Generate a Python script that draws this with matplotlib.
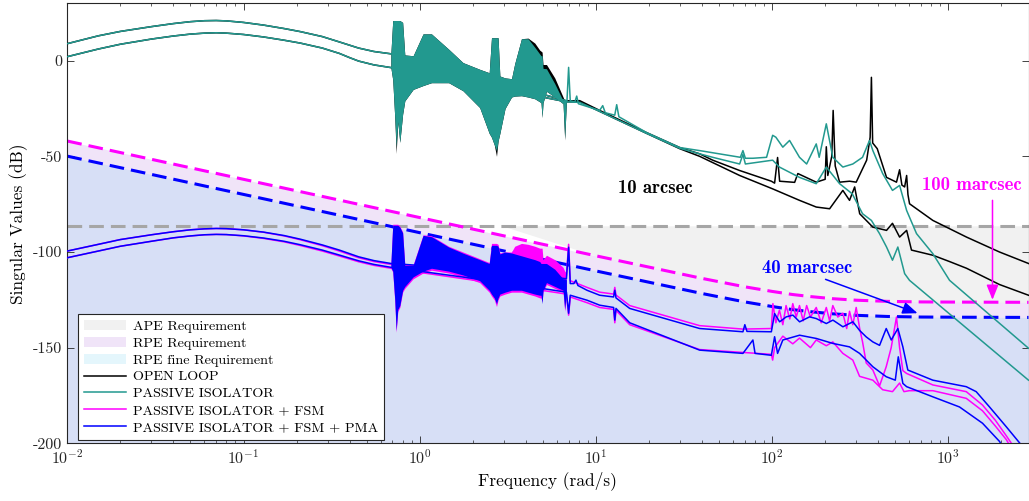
import matplotlib
matplotlib.use("Agg")
import matplotlib.pyplot as plt

plt.rcParams["font.family"] = "cmr10"
plt.rcParams["mathtext.fontset"] = "cm"
plt.rcParams["axes.unicode_minus"] = False
plt.rcParams["axes.formatter.use_mathtext"] = True

# requirement envelopes (dB)
req_freq = [0.01, 1, 10, 40, 70, 100, 130, 165, 220, 300, 450, 700, 1200, 2851]
rpe_db = [-42.0, -82.0, -102.0, -113.8, -118.2, -120.6, -122.2, -123.3, -124.4, -125.2, -125.8, -126.1, -126.2, -126.3]
rpe_fine_db = [-49.9, -89.9, -109.9, -121.7, -126.1, -128.5, -130.1, -131.2, -132.3, -133.1, -133.7, -134.0, -134.1, -134.2]
ape_db = -86.3

# singular values, (rad/s, dB)
ol_sv1 = [(0.01, 8.9), (0.015, 13), (0.02, 15.3), (0.03, 17.8), (0.04, 19.4), (0.05, 20.4), (0.06, 20.9),
          (0.07, 21), (0.08, 20.8), (0.1, 20), (0.13, 18.6), (0.17, 16.8), (0.21, 15.2), (0.28, 12.6),
          (0.35, 9.8), (0.45, 6.6), (0.55, 4.8), (0.686, 3.6), (3.0, -12), (6.8, -21), (8.09, -20.9),
          (10.5, -26), (19.4, -37.6), (29.9, -45.4), (38.8, -48.7), (46.0, -52), (65.4, -57.4), (99.0, -63),
          (103.3, -64), (107.4, -50.6), (110.3, -63), (134.2, -63.6), (140, -59), (178, -63.5), (200, -62),
          (203, -45), (207, -60), (218, -50), (222, -26), (228, -55), (241.5, -63.5), (275, -63), (300, -63.5),
          (344, -52), (360, -40), (366, -8.7), (372, -43), (395, -46), (446, -61), (508, -63.5), (529, -57),
          (545, -65), (565, -66), (580, -60), (590, -70), (602.5, -74.8), (817, -83.5), (1268, -92.2),
          (1951, -100), (2851, -106)]
ol_sv2 = [(0.01, 2.1), (0.015, 6.1), (0.02, 8.6), (0.03, 11.3), (0.04, 12.9), (0.05, 13.9), (0.06, 14.4),
          (0.07, 14.6), (0.08, 14.4), (0.1, 13.7), (0.13, 12.4), (0.17, 10.7), (0.21, 9.2), (0.28, 6.6),
          (0.35, 3.8), (0.4, 1.6), (0.45, -0.2), (0.55, -2.2), (0.686, -3.6), (3.0, -15), (6.8, -21.5),
          (8.09, -21.5), (10.5, -26.5), (19.4, -38), (29.9, -46), (38.8, -50), (65.4, -60), (100.7, -67),
          (143, -73), (178, -76.5), (212, -77.4), (252, -67.8), (275, -73), (294, -66), (314, -80), (373, -87),
          (446, -88.7), (482, -85), (529, -92.2), (580, -88.7), (618, -99), (817, -101.7), (1016, -105),
          (1268, -108.5), (1951, -117), (2851, -122.6)]
pi_sv1 = [(0.01, 8.9), (0.015, 13), (0.02, 15.3), (0.03, 17.8), (0.04, 19.4), (0.05, 20.4), (0.06, 20.9),
          (0.07, 21), (0.08, 20.8), (0.1, 20), (0.13, 18.6), (0.17, 16.8), (0.21, 15.2), (0.28, 12.6),
          (0.35, 9.8), (0.45, 6.6), (0.55, 4.8), (0.686, 3.6), (3.0, -12), (6.85, -21), (7.0, -3.5), (7.15, -21),
          (7.6, -21.5), (7.78, -18.5), (7.95, -22.5), (10.5, -26), (10.93, -23.5), (11.3, -27.2), (12.79, -28.5),
          (13.12, -23), (13.5, -29.3), (19.4, -37.6), (29.9, -45.4), (38.8, -47), (66, -50.5), (68.3, -47),
          (70.5, -51), (77.8, -51), (93, -50.5), (100.7, -39), (105, -40), (115, -45.2), (125.6, -41.7),
          (143, -50.5), (157, -54), (178, -43.5), (185, -50.5), (203, -33), (221, -50.5), (252, -55.6),
          (287, -54), (326, -50.5), (357, -41.7), (373, -47), (424, -59), (482, -67.8), (529, -65.2),
          (580, -78.3), (660, -90.4), (817, -100.9), (1016, -114.8), (2851, -150.3)]
pi_sv2 = [(0.01, 2.1), (0.015, 6.1), (0.02, 8.6), (0.03, 11.3), (0.04, 12.9), (0.05, 13.9), (0.06, 14.4),
          (0.07, 14.6), (0.08, 14.4), (0.1, 13.7), (0.13, 12.4), (0.17, 10.7), (0.21, 9.2), (0.28, 6.6),
          (0.35, 3.8), (0.4, 1.6), (0.45, -0.2), (0.55, -2.2), (0.686, -3.6), (3.0, -15), (6.8, -21.5),
          (8.09, -21.8), (10.5, -26.5), (19.4, -38), (29.9, -45.8), (38.8, -48.7), (46, -50.5), (65.4, -54),
          (68.3, -49), (70.5, -54), (100.7, -52), (110, -55.6), (143, -61), (178, -64.3), (203, -55.6),
          (241.5, -64.3), (285, -69.6), (326, -80), (366, -83.5), (407, -90.4), (446, -97.4), (482, -104.3),
          (517, -97.4), (565, -111.3), (602, -114.8), (2851, -167)]
fsm_sv1 = [(0.01, -99.5), (0.015, -96), (0.02, -93.5), (0.03, -91), (0.04, -89.4), (0.05, -88.4), (0.06, -87.9),
           (0.07, -87.7), (0.08, -87.8), (0.1, -88.4), (0.13, -89.7), (0.17, -91.6), (0.21, -93.6), (0.28, -96.7),
           (0.35, -99.5), (0.45, -103), (0.55, -105), (0.686, -106.5), (3.0, -110), (6.8, -112.5), (7.0, -96),
           (7.15, -115), (8.9, -118.5), (10.5, -121), (12.6, -122), (12.8, -118.5), (13.0, -122.5), (15.55, -128),
           (38.8, -138.5), (68.3, -140.3), (99, -140), (101, -127), (105, -137), (110, -130.4), (115, -138),
           (120, -128), (126, -135), (131, -127), (137, -134), (143, -128), (150, -136), (157, -128), (165, -134),
           (178, -129), (190, -137), (203, -129), (212, -136), (221, -128), (236, -134), (252, -132), (265, -140),
           (275, -131), (287, -138), (300, -129), (314, -140), (326, -147), (342, -158), (373, -161.7),
           (407, -170), (444, -160), (474, -150), (508, -134), (529, -150), (552, -162), (580, -163.5),
           (817, -169.5), (1264, -173), (1563, -180), (1850, -188), (2130, -196), (2400, -203)]
fsm_sv2 = [(0.01, -103), (0.015, -99.5), (0.02, -97), (0.03, -94.4), (0.04, -92.6), (0.05, -91.6), (0.06, -91),
           (0.07, -90.8), (0.08, -90.9), (0.1, -91.6), (0.13, -92.9), (0.17, -94.7), (0.21, -96.6), (0.28, -99.5),
           (0.35, -102.1), (0.45, -105.1), (0.55, -107), (0.686, -108.5), (3.0, -117), (6.8, -122), (7.0, -133),
           (7.15, -123.5), (8.9, -126.5), (10.5, -129), (12.6, -130), (12.8, -137), (13.0, -130.5), (15.55, -138),
           (38.8, -151), (68.3, -152.5), (99, -153.5), (100.7, -156.5), (103.3, -150), (115, -144), (131, -148),
           (143, -145), (165, -150), (178, -146), (203, -149), (221, -147), (252, -153), (287, -156.5),
           (313.6, -165), (373, -167), (424, -172), (482, -173), (529, -168.5), (560, -173), (600, -172.5),
           (817, -172.5), (1264, -176.5), (1563, -183), (1850, -191), (2130, -198), (2300, -203)]
pma_sv1 = [(0.01, -99.5), (0.015, -96), (0.02, -93.5), (0.03, -91), (0.04, -89.4), (0.05, -88.4), (0.06, -87.9),
           (0.07, -87.7), (0.08, -87.8), (0.1, -88.4), (0.13, -89.6), (0.17, -91.4), (0.21, -93.3), (0.28, -96.3),
           (0.35, -99), (0.45, -102.5), (0.55, -104.5), (0.686, -106), (3.0, -110), (6.8, -114), (7.0, -97.5),
           (7.15, -116.5), (7.5, -116.5), (7.7, -114.7), (7.9, -117.5), (8.9, -120), (10.5, -122.6),
           (12.6, -123.5), (12.8, -120), (13.0, -124), (15.55, -129.5), (38.8, -140), (68.3, -141.7), (70, -138),
           (72, -141.5), (99, -141.7), (103.3, -132.2), (110.3, -136.5), (120.3, -133.9), (131.2, -133),
           (143.2, -136.5), (163.2, -133.9), (178.1, -134.8), (203, -137.4), (221.3, -135.6), (252.2, -139.1),
           (287.3, -136.5), (313.6, -141), (342.2, -144.4), (373, -147), (407.2, -148.8), (444.2, -140),
           (474.2, -146), (517.2, -140), (552, -149.6), (589, -161.7), (816.6, -167), (1264, -170.4),
           (1439, -173), (1713, -181), (2130, -191.3), (2591, -200.8), (2851, -206)]
pma_sv2 = [(0.01, -103), (0.015, -99.5), (0.02, -97), (0.03, -94.4), (0.04, -92.6), (0.05, -91.6), (0.06, -91),
           (0.07, -90.8), (0.08, -90.9), (0.1, -91.5), (0.13, -92.7), (0.17, -94.4), (0.21, -96.2), (0.28, -99),
           (0.35, -101.6), (0.45, -104.6), (0.55, -106.5), (0.686, -108), (3.0, -116), (6.8, -121), (7.0, -132),
           (7.15, -122.6), (8.9, -125.2), (10.5, -127.8), (12.6, -129), (12.8, -135.6), (13.0, -129.5),
           (15.55, -137), (38.8, -151.3), (68.3, -153), (77.8, -146), (80, -153), (99, -154), (103.3, -144.3),
           (107.4, -153), (115, -146), (143.2, -143.5), (178.1, -145.2), (221.3, -147.8), (275, -149.6),
           (313.6, -153), (373, -160), (444.2, -165.2), (500, -167), (520, -154.8), (552, -168.7), (580, -170.4),
           (816.6, -175.7), (1157, -181), (1563, -189.5), (1951, -199), (2100, -204)]

# dense bundle of modes between ~0.7 and ~7 rad/s (upper / lower envelope, dB)
band_freq = [0.686, 0.703, 0.722, 0.735, 0.751, 0.771, 0.80, 0.823, 0.918, 1.045, 1.166, 1.46, 1.76, 2.19,
             2.48, 2.555, 2.65, 2.728, 2.785, 2.85, 3.05, 3.32, 3.46, 3.78, 4.12, 4.50, 4.80, 4.88, 4.95, 5.01,
             5.24, 5.84, 6.51, 6.65, 6.8]
pi_band_hi = [3.6, 21, 21, 21, 21, 21, 20, 3, 2.6, 14, 14, 6, -1, -4.5, -6.3, 12, 12, 12, 12, -8, -9, -9.4,
              -1.6, 11.5, 11.5, 7, 3.5, 2.6, 2.6, -4, -4.2, -12, -20.9, -21, -21]
pi_band_lo = [-3.6, -10, -30, -45, -32, -42.7, -28, -21, -15, -13, -11.5, -11.5, -15.7, -24.5, -38, -40, -44,
              -47, -42, -38, -25, -19, -18.5, -18.3, -19, -19.9, -21.5, -22, -29.7, -22, -16, -19, -22.5, -40.7,
              -21.5]
ol_band_hi = [3.6, 21, 21, 21, 21, 21, 20, 3, 2.6, 14, 14, 6, -1, -4.5, -6.3, 12, 12, 12, 12, -8, -9, -9.4,
              -1.6, 11.5, 11.8, 9.2, 5.5, 5, 4.5, -2, -2, -9, -19, -21, -21]
ol_band_lo = [-3.6, -10, -30, -48.5, -32, -42.7, -28, -21, -15, -13, -11.5, -11.5, -15.7, -24.5, -38, -40, -44,
              -50, -42, -38, -25, -19, -18.5, -18.3, -19, -19.9, -21.5, -22, -29.7, -22, -16, -19, -22.5, -41.5,
              -21.5]
fsm_band_hi = [-106.5, -85.5, -85.5, -85.5, -85.5, -86.5, -89.5, -106.5, -106.5, -91, -91.5, -97, -100, -103.5,
               -105.5, -95.5, -95.5, -95.5, -96, -100.5, -100, -100, -97, -95.5, -96, -97, -98, -98, -98, -104,
               -101.7, -104, -108, -110, -111]
fsm_band_lo = [-108.5, -110.5, -126, -142, -131, -129, -121, -119, -114, -111, -109.5, -111, -113, -116, -121,
               -123, -125, -128.5, -125, -123, -122, -121, -121, -121, -122, -123, -124, -124, -126, -121, -117,
               -119, -121, -131, -122]
pma_band_hi = [-106, -86, -86, -86, -86, -87, -90, -107, -107, -91.3, -92, -97.4, -100.6, -104, -106, -96.5,
               -96.5, -96.5, -97, -101, -100, -100.5, -101, -102, -103, -104, -105, -106, -106, -106, -106, -109,
               -114, -114, -114.5]
pma_band_lo = [-108, -110, -125, -141, -130, -128, -120, -118, -113, -110, -108.5, -110, -112, -115, -120, -122,
               -124, -127, -124, -122, -121, -120, -120, -120, -121, -122, -122.6, -122.6, -127, -120, -116, -118,
               -120, -130, -121]

c_ol = "black"
c_pi = "#22998f"
c_fsm = "#ff00ff"
c_pma = "#0000ff"

fig = plt.figure(figsize=(10.29, 5.01), dpi=100)
ax = fig.add_axes([67.3 / 1029, 1 - 443.3 / 501, (1028.5 - 67.3) / 1029, 440 / 501])

# requirement areas
h_ape = ax.fill_between(req_freq, rpe_db, ape_db, where=[r < ape_db for r in rpe_db], interpolate=True,
                        color="#a2a2a2", alpha=0.15, lw=0, zorder=1, label="APE Requirement")
h_rpe = ax.fill_between(req_freq, -250, rpe_db, color="#9b4bd0", alpha=0.15, lw=0, zorder=1,
                        label="RPE Requirement")
h_fine = ax.fill_between(req_freq, -250, rpe_fine_db, color="#4bc3eb", alpha=0.15, lw=0, zorder=1,
                         label="RPE fine Requirement")
ax.axhline(ape_db, color="#a6a6a6", lw=2.2, ls=(0, (4.8, 2.3)), zorder=2)
ax.plot(req_freq, rpe_db, color=c_fsm, lw=2.2, ls=(0, (4.8, 2.3)), zorder=2)
ax.plot(req_freq, rpe_fine_db, color=c_pma, lw=2.2, ls=(0, (4.8, 2.3)), zorder=2)


def curve(pts, color, z, label=None):
    f, db = zip(*pts)
    return ax.plot(f, db, color=color, lw=1.1, zorder=z, label=label)[0]


ax.fill_between(band_freq, ol_band_lo, ol_band_hi, color=c_ol, lw=0, zorder=3)
h_ol = curve(ol_sv1, c_ol, 3, "OPEN LOOP")
curve(ol_sv2, c_ol, 3)
ax.fill_between(band_freq, pi_band_lo, pi_band_hi, color=c_pi, lw=0, zorder=4)
h_pi = curve(pi_sv1, c_pi, 4, "PASSIVE ISOLATOR")
curve(pi_sv2, c_pi, 4)
ax.fill_between(band_freq, fsm_band_lo, fsm_band_hi, color=c_fsm, lw=0, zorder=5)
h_fsm = curve(fsm_sv1, c_fsm, 5, "PASSIVE ISOLATOR + FSM")
curve(fsm_sv2, c_fsm, 5)
ax.fill_between(band_freq, pma_band_lo, pma_band_hi, color=c_pma, lw=0, zorder=6)
h_pma = curve(pma_sv1, c_pma, 6, "PASSIVE ISOLATOR + FSM + PMA")
curve(pma_sv2, c_pma, 6)

# annotations
ax.text(21.6, -66.3, "10 arcsec", family="cmb10", fontsize=13.5, ha="center", va="center", zorder=8)
ax.text(1354, -65.2, "100 marcsec", family="cmb10", fontsize=13.5, color=c_fsm, ha="center", va="center", zorder=8)
ax.text(157, -108.5, "40 marcsec", family="cmb10", fontsize=13.5, color=c_pma, ha="center", va="center", zorder=8)
ax.annotate("", xy=(1781, -125), xytext=(1781, -73), zorder=8,
            arrowprops=dict(arrowstyle="-|>,head_length=0.5,head_width=0.2", mutation_scale=18,
                            color=c_fsm, lw=1.1, shrinkA=0, shrinkB=0))
ax.annotate("", xy=(669, -132), xytext=(201, -114.3), zorder=8,
            arrowprops=dict(arrowstyle="-|>,head_length=0.5,head_width=0.2", mutation_scale=18,
                            color=c_pma, lw=1.1, shrinkA=0, shrinkB=0))

ax.set_xscale("log")
ax.set_xlim(0.01, 2851)
ax.set_ylim(-200, 30)
ax.set_yticks([-200, -150, -100, -50, 0])
ax.set_yticklabels(["-200", "-150", "-100", "-50", "0"])
ax.tick_params(which="both", direction="in", top=True, right=True, colors="#262626", labelsize=11.5)
ax.tick_params(which="major", length=5, width=0.6)
ax.tick_params(which="minor", length=2.5, width=0.5)
for s in ax.spines.values():
    s.set_color("#262626")
    s.set_linewidth(0.8)
ax.set_xlabel("Frequency (rad/s)", fontsize=12.5, labelpad=3)
ax.set_ylabel("Singular Values (dB)", fontsize=12.5, labelpad=4)

leg = ax.legend(handles=[h_ape, h_rpe, h_fine, h_ol, h_pi, h_fsm, h_pma], loc="lower left",
                bbox_to_anchor=(0.011, 0.008), borderaxespad=0, fontsize=10.2, labelspacing=0.28,
                handlelength=3.0, handletextpad=0.5, fancybox=False, framealpha=1, edgecolor="#262626",
                borderpad=0.4)
leg.get_frame().set_linewidth(0.8)
leg.set_zorder(10)

fig.savefig("out.png", dpi=100)
